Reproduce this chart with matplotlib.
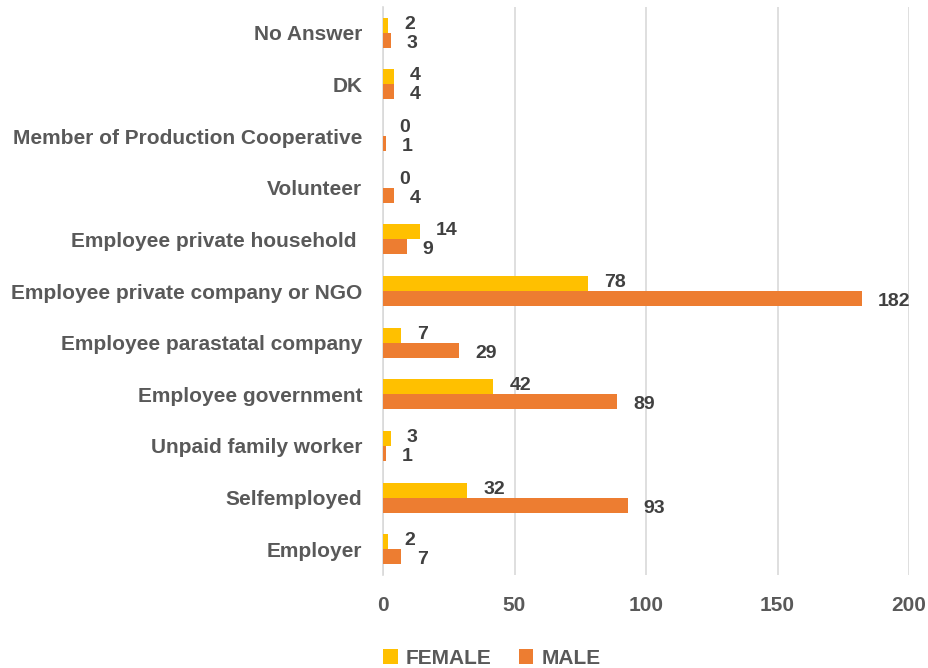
import matplotlib.pyplot as plt
import numpy as np

categories = ['Employer', 'Selfemployed', 'Unpaid family worker', 'Employee government',
              'Employee parastatal company', 'Employee private company or NGO',
              'Employee private household ', 'Volunteer', 'Member of Production Cooperative',
              'DK', 'No Answer']
female = [2, 32, 3, 42, 7, 78, 14, 0, 0, 4, 2]
male = [7, 93, 1, 89, 29, 182, 9, 4, 1, 4, 3]

plt.rcParams['font.family'] = ['Liberation Sans', 'DejaVu Sans']
plt.rcParams['font.weight'] = 'bold'

fig = plt.figure(figsize=(9.29, 6.68), dpi=100)
ax = fig.add_axes([0.4123, 0.1392, 0.5662, 0.8503])

y = np.arange(len(categories))
h = 0.29
b1 = ax.barh(y + h/2, female, height=h, color='#FFC000', label='FEMALE', zorder=3)
b2 = ax.barh(y - h/2, male, height=h, color='#ED7D31', label='MALE', zorder=3)

# value labels just right of bar ends
for yy, v in zip(y, female):
    ax.annotate(str(v), (v, yy + h/2), xytext=(16, 1), textcoords='offset pixels',
                va='center', ha='left', fontsize=14, fontweight='bold', color='#404040')
for yy, v in zip(y, male):
    ax.annotate(str(v), (v, yy - h/2), xytext=(16, -3), textcoords='offset pixels',
                va='center', ha='left', fontsize=14, fontweight='bold', color='#404040')

ax.set_xlim(0, 200)
ax.set_ylim(-0.5, len(categories) - 0.5)
ax.set_xticks([0, 50, 100, 150, 200])
ax.set_yticks(y)
ax.set_yticklabels(categories)
ax.grid(axis='x', color='#D9D9D9', linewidth=1.2, zorder=0)
for s in ['top', 'right', 'bottom']:
    ax.spines[s].set_visible(False)
ax.spines['left'].set_color('#D9D9D9')
ax.spines['left'].set_linewidth(1.2)
ax.tick_params(axis='y', length=0, pad=15, labelsize=15, labelcolor='#595959')
ax.tick_params(axis='x', length=0, pad=15, labelsize=15, labelcolor='#595959')

fig.legend(handles=[b1, b2], loc='lower left', bbox_to_anchor=(0.392, -0.028), ncol=2,
           frameon=False, handlelength=0.7, handleheight=0.7, handletextpad=0.4,
           columnspacing=1.3, prop={'size': 15, 'weight': 'bold'}, labelcolor='#595959')

fig.savefig('out.png', dpi=100)
